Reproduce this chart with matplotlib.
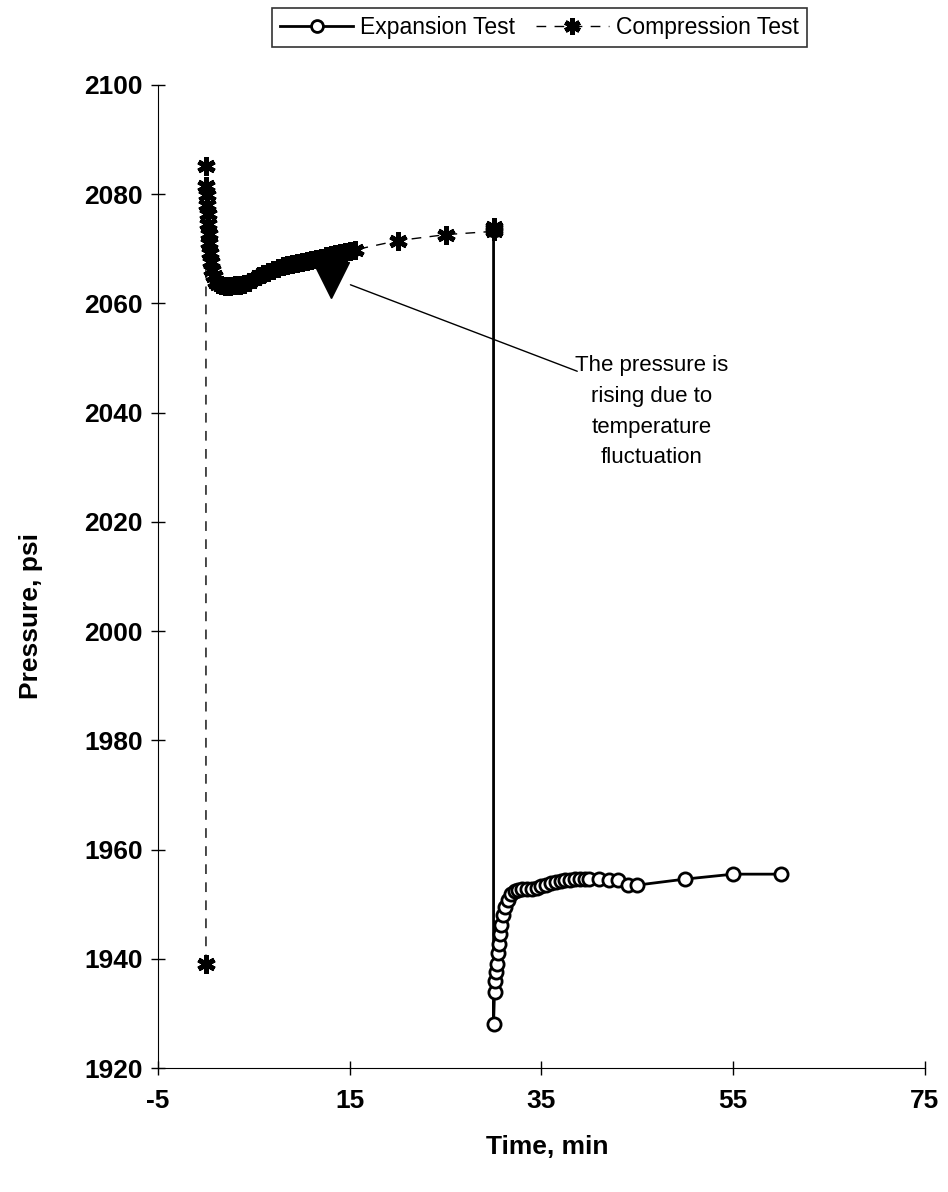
import matplotlib
matplotlib.use("Agg")
from matplotlib import pyplot as plt

plt.rcParams['font.family'] = ['Liberation Sans', 'DejaVu Sans']
plt.rcParams['axes.unicode_minus'] = False

# compression test (time in min, pressure in psi)
comp_t = [0, 0, 0.05, 0.1, 0.15, 0.2, 0.25, 0.3, 0.35, 0.4, 0.5, 0.6, 0.8, 1.0,
          1.3, 1.6, 2.0, 2.5, 3.0, 3.5, 4.0, 4.5, 5.0, 5.5, 6.0, 6.5, 7.0, 7.5,
          8.0, 8.5, 9.0, 9.5, 10.0, 10.5, 11.0, 11.5, 12.0, 12.5, 13.0, 13.5,
          14.0, 14.5, 15.0, 15.5, 20, 25, 30, 30, 30]
comp_p = [1939, 2085.2, 2081.5, 2079.8, 2078.0, 2076.3, 2074.5, 2072.8, 2071.0,
          2069.3, 2067.6, 2066.2, 2065.0, 2064.0, 2063.5, 2063.3, 2063.2, 2063.2,
          2063.3, 2063.4, 2063.6, 2064.0, 2064.5, 2065.0, 2065.4, 2065.8, 2066.2,
          2066.5, 2066.8, 2067.0, 2067.2, 2067.4, 2067.6, 2067.8, 2068.0, 2068.2,
          2068.4, 2068.6, 2068.8, 2069.0, 2069.2, 2069.4, 2069.6, 2069.8, 2071.5,
          2072.6, 2073.2, 2073.6, 2074.0]

# expansion test
exp_t = [30, 30, 30.1, 30.2, 30.3, 30.4, 30.5, 30.6, 30.7, 30.8, 31.0, 31.2, 31.5,
         31.8, 32.2, 32.6, 33.0, 33.5, 34.0, 34.5, 35.0, 35.5, 36.0, 36.5, 37.0,
         37.5, 38.0, 38.5, 39.0, 39.5, 40.0, 41.0, 42.0, 43.0, 44.0, 45.0, 50.0,
         55.0, 60.0]
exp_p = [2073.5, 1928, 1934, 1936, 1937.5, 1939, 1941, 1942.8, 1944.5, 1946.2,
         1948, 1949.5, 1950.8, 1951.8, 1952.4, 1952.6, 1952.7, 1952.7, 1952.8,
         1953.0, 1953.3, 1953.6, 1953.9, 1954.1, 1954.3, 1954.4, 1954.5, 1954.6,
         1954.6, 1954.6, 1954.6, 1954.6, 1954.5, 1954.5, 1953.6, 1953.5, 1954.6,
         1955.5, 1955.5]

xticks = [-5, 15, 35, 55, 75]
yticks = [1920, 1940, 1960, 1980, 2000, 2020, 2040, 2060, 2080, 2100]

note = "The pressure is\nrising due to\ntemperature\nfluctuation"
tri_xy = (13.0, 2064.3)
line_start = (14.8, 2063.6)
line_end = (39.0, 2047.4)
text_xy = (46.5, 2050.5)

fig = plt.figure(figsize=(9.48, 11.92), dpi=100)
ax = fig.add_axes([0.1667, 0.104, 0.809, 0.8247])

l1, = ax.plot(exp_t, exp_p, '-', color='black', lw=2, marker='o', ms=9.5,
              mfc='white', mec='black', mew=2, label='Expansion Test')
l2, = ax.plot(comp_t, comp_p, '--', color='black', lw=1, dashes=(7, 6),
              marker=(6, 2, 0), ms=13, mec='black', mew=3.5,
              label='Compression Test')

# annotation
ax.plot([tri_xy[0]], [tri_xy[1]], marker='v', ms=26, color='black')
ax.annotate('', xy=line_start, xytext=line_end,
            arrowprops=dict(arrowstyle='-', color='black', lw=1))
ax.text(text_xy[0], text_xy[1], note, ha='center', va='top', fontsize=16,
        linespacing=1.6)

ax.set_xlim(-5, 75)
ax.set_ylim(1920, 2100)
ax.set_xticks(xticks)
ax.set_yticks(yticks)
ax.tick_params(direction='inout', length=10, width=1, labelsize=19)
ax.tick_params(axis='y', pad=6)
ax.tick_params(axis='x', pad=10)
for lab in ax.get_xticklabels() + ax.get_yticklabels():
    lab.set_fontweight('bold')
ax.spines['top'].set_visible(False)
ax.spines['right'].set_visible(False)
ax.set_xlabel('Time, min', fontsize=19, fontweight='bold')
ax.set_ylabel('Pressure, psi', fontsize=19, fontweight='bold')
ax.xaxis.set_label_coords(0.508, -0.068)
ax.yaxis.set_label_coords(-0.150, 0.46)

leg = fig.legend(handles=[l1, l2], loc='upper center', bbox_to_anchor=(0.569, 0.993),
                 ncol=2, fontsize=16.5, frameon=True, fancybox=False,
                 handlelength=3.2, handletextpad=0.3, columnspacing=0.9,
                 borderpad=0.35, borderaxespad=0, markerscale=0.9)
leg.get_frame().set_edgecolor('black')
leg.get_frame().set_linewidth(1.2)

fig.savefig('out.png', dpi=100)
